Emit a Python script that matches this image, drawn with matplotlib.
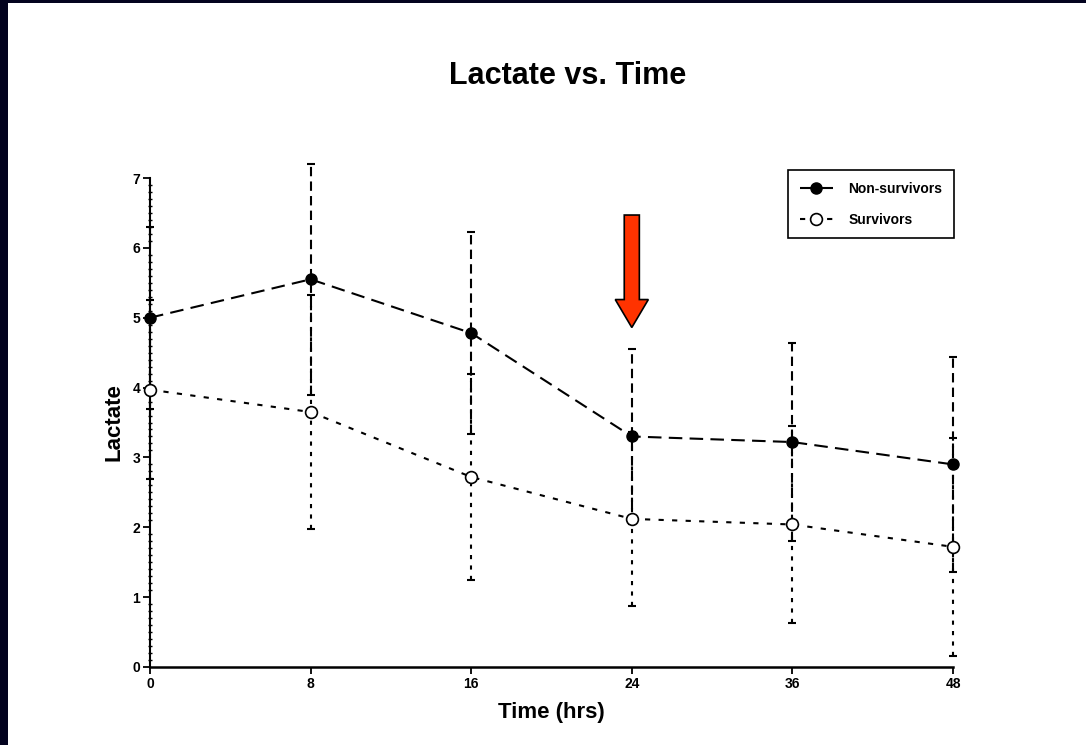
import numpy as np
import matplotlib
matplotlib.use('Agg')
import matplotlib.pyplot as plt
from matplotlib.patches import FancyArrow, Rectangle
from matplotlib.ticker import MultipleLocator

# values (mean and SD, lactate)
hours = ['0', '8', '16', '24', '36', '48']
non_surv = [5.00, 5.55, 4.78, 3.30, 3.22, 2.90]
non_surv_sd = [1.30, 1.65, 1.44, 1.25, 1.42, 1.54]
surv = [3.97, 3.65, 2.72, 2.12, 2.04, 1.72]
surv_sd = [1.28, 1.68, 1.47, 1.24, 1.41, 1.56]

plt.rcParams['font.family'] = ['Liberation Sans', 'DejaVu Sans']

W, H = 1086, 745
fig = plt.figure(figsize=(W / 100, H / 100), dpi=100)
fig.patch.set_facecolor('#03031f')
# white slide area, navy strip on the left and top
fig.add_artist(Rectangle((8 / W, 0), 1, 1 - 3 / H, transform=fig.transFigure,
                         facecolor='white', edgecolor='none', zorder=-5))

ax = fig.add_axes([150 / W, 1 - 667 / H, 803 / W, 489 / H])
ax.set_facecolor('none')

x = np.arange(len(hours))

# error bars
eb = ax.errorbar(x, non_surv, yerr=non_surv_sd, fmt='none', ecolor='black',
                 elinewidth=1.5, capsize=3, capthick=1.5, clip_on=False)
eb[2][0].set_linestyle((0, (4.5, 2.5)))
eb = ax.errorbar(x, surv, yerr=surv_sd, fmt='none', ecolor='black',
                 elinewidth=1.5, capsize=3, capthick=1.5, clip_on=False)
eb[2][0].set_linestyle((0, (2, 3)))

ax.plot(x, non_surv, color='black', lw=1.5, dashes=(6.5, 3.5), marker='o',
        ms=8, mfc='black', mec='black', label='Non-survivors', clip_on=False, zorder=4)
ax.plot(x, surv, color='black', lw=1.5, dashes=(2.5, 4), marker='o',
        ms=8.5, mfc='white', mec='black', mew=1.2, label='Survivors', clip_on=False, zorder=4)

ax.set_xlim(0, 5)
ax.set_ylim(0, 7)
ax.set_xticks(x)
ax.set_xticklabels(hours)
ax.yaxis.set_major_locator(MultipleLocator(1))
ax.yaxis.set_minor_locator(MultipleLocator(0.1))

for s in ['top', 'right']:
    ax.spines[s].set_visible(False)
ax.spines['left'].set_linewidth(1.5)
ax.spines['bottom'].set_linewidth(1.8)

ax.tick_params(axis='both', which='major', direction='out', length=5, width=1.3,
               labelsize=10, pad=2)
ax.tick_params(axis='y', which='minor', direction='inout', length=3, width=1)
for lab in ax.get_xticklabels() + ax.get_yticklabels():
    lab.set_fontweight('bold')

ax.set_xlabel('Time (hrs)', fontsize=16, fontweight='bold', labelpad=8)
ax.set_ylabel('Lactate', fontsize=16, fontweight='bold', labelpad=6)
fig.text(568 / W, 1 - 76 / H, 'Lactate vs. Time', ha='center', va='center',
         fontsize=22, fontweight='bold')

leg = ax.legend(loc='upper left', bbox_to_anchor=(0.7945, 1.0163), frameon=True,
                fancybox=False, edgecolor='black', framealpha=1, borderaxespad=0,
                prop={'size': 10, 'weight': 'bold'},
                handlelength=2.4, handletextpad=1.1, borderpad=0.85,
                labelspacing=1.2)
leg.get_frame().set_linewidth(1.2)

# red arrow pointing at 24 hrs
ax.add_patch(FancyArrow(3, 6.47, 0, -1.61, width=0.094, head_width=0.206,
                        head_length=0.40, length_includes_head=True,
                        facecolor='#ff3300', edgecolor='black', lw=1.2,
                        clip_on=False, zorder=6))

fig.savefig('out.png', dpi=100, facecolor=fig.get_facecolor())
